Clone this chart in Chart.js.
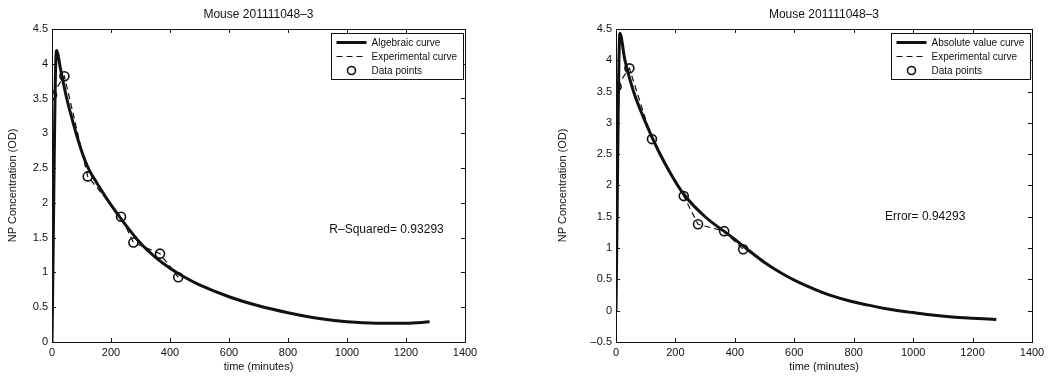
<!DOCTYPE html>
<html lang="en">
<head>
  <meta charset="UTF-8">
  <title>Mouse 201111048-3</title>
  <script src="https://cdn.jsdelivr.net/npm/chart.js"></script>
  <style>
    body {
      margin: 0;
      background: #ffffff;
      width: 1050px;
      height: 376px;
      position: relative;
      overflow: hidden;
    }
    .panel {
      position: absolute;
      top: 0;
      width: 525px;
      height: 376px;
    }
    #leftPanel { left: 0; }
    #rightPanel { left: 525px; }
  </style>
</head>
<body>
  <div class="panel" id="leftPanel"><canvas id="leftChart" width="525" height="376"></canvas></div>
  <div class="panel" id="rightPanel"><canvas id="rightChart" width="525" height="376"></canvas></div>

  <script>
    // left panel: algebraic fit
    const leftCurveT = [0, 15, 30, 50, 75, 100, 125, 150, 200, 250, 300, 350, 400, 450, 500, 600, 700, 800, 900, 1000, 1100, 1200, 1280];
    const leftCurveY = [0, 4.19, 3.9, 3.5, 3.1, 2.75, 2.48, 2.3, 1.97, 1.68, 1.42, 1.22, 1.06, 0.93, 0.82, 0.65, 0.52, 0.42, 0.34, 0.29, 0.27, 0.27, 0.29];
    const leftDataT = [0, 42, 121, 234, 276, 366, 428];
    const leftDataY = [3.55, 3.82, 2.38, 1.8, 1.43, 1.27, 0.93];

    // right panel: absolute value fit
    const rightCurveT = [0, 13, 30, 59, 93, 143, 185, 228, 300, 386, 450, 500, 560, 612, 675, 725, 790, 838, 900, 951, 1000, 1064, 1132, 1200, 1280];
    const rightCurveY = [0, 4.43, 4.0, 3.5, 3.08, 2.55, 2.18, 1.86, 1.5, 1.19, 0.95, 0.77, 0.59, 0.46, 0.33, 0.24, 0.15, 0.1, 0.04, 0.0, -0.03, -0.07, -0.1, -0.12, -0.14];
    const rightDataT = [2, 45, 121, 228, 276, 364, 428];
    const rightDataY = [3.58, 3.87, 2.74, 1.83, 1.38, 1.27, 0.98];

    const xTicks = [0, 200, 400, 600, 800, 1000, 1200, 1400];
    const leftYTicks = [0, 0.5, 1, 1.5, 2, 2.5, 3, 3.5, 4, 4.5];
    const rightYTicks = [-0.5, 0, 0.5, 1, 1.5, 2, 2.5, 3, 3.5, 4, 4.5];

    const FONT = "'Liberation Sans', Arial, sans-serif";
    const INK = '#111';

    function pairs(ts, ys) {
      return ts.map((t, i) => ({ x: t, y: ys[i] }));
    }

    function tickText(v) {
      return v < 0 ? '\u2013' + Math.abs(v) : String(v);
    }

    // box, inward ticks, legend and the note text
    const matlabLook = {
      id: 'matlabLook',
      afterDraw(chart, args, opts) {
        const ctx = chart.ctx;
        const a = chart.chartArea;
        const xs = chart.scales.x, ys = chart.scales.y;
        ctx.save();
        ctx.strokeStyle = INK;
        ctx.lineWidth = 1;
        ctx.strokeRect(Math.round(a.left) + 0.5, Math.round(a.top) + 0.5, Math.round(a.right - a.left), Math.round(a.bottom - a.top));
        ctx.beginPath();
        xs.ticks.forEach(t => {
          const px = Math.round(xs.getPixelForValue(t.value)) + 0.5;
          ctx.moveTo(px, a.bottom); ctx.lineTo(px, a.bottom - 4);
          ctx.moveTo(px, a.top); ctx.lineTo(px, a.top + 4);
        });
        ys.ticks.forEach(t => {
          const py = Math.round(ys.getPixelForValue(t.value)) + 0.5;
          ctx.moveTo(a.left, py); ctx.lineTo(a.left + 4, py);
          ctx.moveTo(a.right, py); ctx.lineTo(a.right - 4, py);
        });
        ctx.stroke();

        // note
        ctx.fillStyle = INK;
        ctx.font = '12px ' + FONT;
        ctx.textBaseline = 'middle';
        ctx.textAlign = 'left';
        ctx.fillText(opts.note, xs.getPixelForValue(opts.noteAt[0]), ys.getPixelForValue(opts.noteAt[1]));

        // legend
        ctx.font = '10px ' + FONT;
        const items = chart.data.datasets;
        let textW = 0;
        items.forEach(d => { textW = Math.max(textW, ctx.measureText(d.label).width); });
        const rowH = 14;
        const boxW = Math.round(textW + 46);
        const boxH = rowH * items.length + 4;
        const bx = Math.round(a.right - boxW - 2) + 0.5;
        const by = Math.round(a.top + 4) + 0.5;
        ctx.fillStyle = '#fff';
        ctx.fillRect(bx, by, boxW, boxH);
        ctx.strokeStyle = INK;
        ctx.lineWidth = 1;
        ctx.strokeRect(bx, by, boxW, boxH);
        items.forEach((d, i) => {
          const cy = by + 2 + rowH * i + rowH / 2;
          ctx.strokeStyle = INK;
          if (d.showLine) {
            ctx.lineWidth = d.borderWidth;
            ctx.setLineDash(d.borderDash || []);
            ctx.beginPath();
            ctx.moveTo(bx + 5, cy); ctx.lineTo(bx + 35, cy);
            ctx.stroke();
            ctx.setLineDash([]);
          } else {
            ctx.lineWidth = d.pointBorderWidth;
            ctx.beginPath();
            ctx.arc(bx + 20, cy, d.pointRadius - 0.5, 0, Math.PI * 2);
            ctx.stroke();
          }
          ctx.fillStyle = INK;
          ctx.fillText(d.label, bx + 40, cy + 0.5);
        });
        ctx.restore();
      }
    };

    function makeChart(id, cfg) {
      return new Chart(document.getElementById(id), {
        type: 'scatter',
        data: {
          datasets: [
            { label: cfg.fitLabel, data: pairs(cfg.curveT, cfg.curveY), showLine: true, borderColor: INK, borderWidth: 3, pointRadius: 0, cubicInterpolationMode: 'monotone' },
            { label: 'Experimental curve', data: pairs(cfg.dataT, cfg.dataY), showLine: true, borderColor: INK, borderWidth: 1.2, borderDash: [6, 4], pointRadius: 0, tension: 0 },
            { label: 'Data points', data: pairs(cfg.dataT, cfg.dataY), showLine: false, pointStyle: 'circle', pointRadius: 4.5, pointBorderWidth: 1.6, pointBorderColor: INK, pointBackgroundColor: 'rgba(0,0,0,0)' }
          ]
        },
        options: {
          responsive: false,
          animation: false,
          devicePixelRatio: 1,
          layout: { padding: cfg.padding },
          plugins: {
            legend: { display: false },
            tooltip: { enabled: false },
            title: {
              display: true,
              text: 'Mouse 201111048\u20133',
              fullSize: false,
              color: INK,
              font: { family: FONT, size: 12, weight: 'normal', lineHeight: 1.2 },
              padding: { top: 7, bottom: 7.5 }
            },
            matlabLook: { note: cfg.note, noteAt: cfg.noteAt }
          },
          scales: {
            x: {
              type: 'linear',
              min: 0, max: 1400,
              afterBuildTicks: s => { s.ticks = xTicks.map(v => ({ value: v })); },
              afterFit: s => { s.height = 34; },
              grid: { display: false, drawTicks: false },
              border: { display: false },
              ticks: { color: INK, font: { family: FONT, size: 11 }, padding: 4, autoSkip: false, maxRotation: 0, callback: tickText },
              title: { display: true, text: 'time (minutes)', color: INK, font: { family: FONT, size: 11 }, padding: { top: 0, bottom: 2 } }
            },
            y: {
              min: cfg.yTicks[0], max: cfg.yTicks[cfg.yTicks.length - 1],
              afterBuildTicks: s => { s.ticks = cfg.yTicks.map(v => ({ value: v })); },
              afterFit: s => { s.width = cfg.yWidth; },
              grid: { display: false, drawTicks: false },
              border: { display: false },
              ticks: { color: INK, font: { family: FONT, size: 11 }, padding: 4, autoSkip: false, callback: tickText },
              title: { display: true, text: 'NP Concentration (OD)', color: INK, font: { family: FONT, size: 11 }, padding: { top: cfg.yTitlePad, bottom: 0 } }
            }
          }
        },
        plugins: [matlabLook]
      });
    }

    makeChart('leftChart', {
      fitLabel: 'Algebraic curve',
      curveT: leftCurveT, curveY: leftCurveY,
      dataT: leftDataT, dataY: leftDataY,
      yTicks: leftYTicks,
      yWidth: 52, yTitlePad: 6,
      padding: { left: 0, right: 60, top: 0, bottom: 0 },
      note: 'R\u2013Squared= 0.93293', noteAt: [940, 1.62]
    });

    makeChart('rightChart', {
      fitLabel: 'Absolute value curve',
      curveT: rightCurveT, curveY: rightCurveY,
      dataT: rightDataT, dataY: rightDataY,
      yTicks: rightYTicks,
      yWidth: 60, yTitlePad: 0,
      padding: { left: 31, right: 18, top: 0, bottom: 0 },
      note: 'Error= 0.94293', noteAt: [905, 1.5]
    });
  </script>
</body>
</html>
